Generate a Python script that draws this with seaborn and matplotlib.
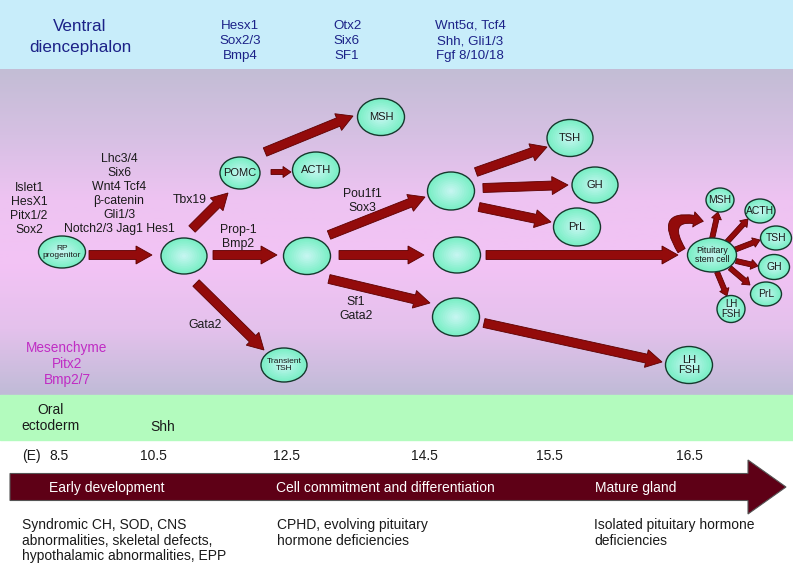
import numpy as np
import matplotlib
matplotlib.use("Agg")
import matplotlib.pyplot as plt
from matplotlib.patches import Ellipse, FancyArrowPatch
import seaborn as sns

sns.set_style("white")
plt.rcParams['font.family'] = ['Liberation Sans', 'DejaVu Sans']

# nodes of the lineage diagram (pixel layout of the reference)
node_labels = ["RP\nprogenitor", "", "POMC", "ACTH", "MSH", "", "", "", "",
               "TSH", "GH", "PrL", "LH\nFSH", "Transient\nTSH", "Pituitary\nstem cell",
               "MSH", "ACTH", "TSH", "GH", "PrL", "LH\nFSH"]
node_x = [62, 184, 240, 316, 381, 307, 451, 457, 456,
          570, 595, 577, 689, 284, 712,
          720, 760, 776, 774, 766, 731]
node_y = [252, 256, 173, 170, 117, 256, 191, 255, 317,
          138, 185, 227, 365, 365, 255,
          200, 211, 238, 267, 294, 309]
node_w = [47, 46, 40, 47, 47, 47, 47, 47, 47,
          46, 46, 47, 47, 46, 49,
          28, 30, 31, 31, 31, 28]
node_h = [32, 36, 32, 36, 37, 37, 38, 36, 38,
          37, 36, 38, 37, 34, 34,
          24, 24, 24, 25, 24, 27]
node_fs = [6, 0, 8, 8, 8, 0, 0, 0, 0,
           8, 8, 8, 8, 6, 6.3,
           7.5, 7.5, 7.5, 7.5, 7.5, 7]

# arrows: tail -> tip, and weight class (0 big, 1 small, 2 medium)
arrow_x0 = [89, 192, 271, 265, 213, 196, 329, 339, 329, 476, 483, 479, 486, 484,
            712, 727, 734, 736, 730, 717]
arrow_y0 = [255, 229, 172, 152, 255, 283, 235, 255, 279, 172, 188, 207, 255, 323,
            239, 242, 250, 261, 268, 272]
arrow_x1 = [152, 228, 291, 353, 277, 264, 425, 424, 430, 547, 568, 551, 678, 662,
            718, 748, 760, 758, 750, 727]
arrow_y1 = [255, 193, 172, 116, 255, 350, 197, 255, 303, 147, 185, 222, 255, 362,
            212, 219, 240, 266, 285, 296]
arrow_kind = [0, 0, 2, 0, 0, 0, 0, 0, 0, 0, 0, 0, 0, 0,
              1, 1, 1, 1, 1, 1]

# text annotations
factor_text = ["Islet1\nHesX1\nPitx1/2\nSox2",
               "Lhc3/4\nSix6\nWnt4 Tcf4\nβ-catenin\nGli1/3\nNotch2/3 Jag1 Hes1",
               "Tbx19", "Prop-1\nBmp2", "Pou1f1\nSox3", "Sf1\nGata2", "Gata2"]
factor_x = [29, 119, 190, 238, 362, 356, 205]
factor_y = [209, 194, 200, 237, 201, 309, 325]

top_text = ["Hesx1\nSox2/3\nBmp4", "Otx2\nSix6\nSF1", "Wnt5α, Tcf4\nShh, Gli1/3\nFgf 8/10/18"]
top_x = [240, 347, 470]

day_labels = ["(E)", "8.5", "10.5", "12.5", "14.5", "15.5", "16.5"]
day_x = [22, 59, 153, 286, 424, 549, 689]

stage_labels = ["Early development", "Cell commitment and differentiation", "Mature gland"]
stage_x = [49, 276, 595]

disease_text = ["Syndromic CH, SOD, CNS\nabnormalities, skeletal defects,\nhypothalamic abnormalities, EPP",
                "CPHD, evolving pituitary\nhormone deficiencies",
                "Isolated pituitary hormone\ndeficiencies"]
disease_x = [22, 277, 594]

W, H = 793, 564
fig = plt.figure(figsize=(W / 100, H / 100), dpi=100)
ax = fig.add_axes([0, 0, 1, 1])
ax.set_xlim(0, W)
ax.set_ylim(H, 0)
ax.axis('off')

# background bands
ax.add_patch(plt.Rectangle((0, 0), W, 69, color='#c8edfa', zorder=0))
grad_cmap = sns.blend_palette(['#c3bdd5', '#d6c0e3', '#eec3f2', '#f3c3f5', '#e4c1ec', '#c0bbd7'], as_cmap=True)
grad = np.linspace(0, 1, 200).reshape(-1, 1)
ax.imshow(grad, extent=(0, W, 395, 69), origin='upper', aspect='auto', cmap=grad_cmap, zorder=0)
ax.add_patch(plt.Rectangle((0, 395), W, 45, color='#b3fbbe', zorder=0))

navy = '#1c2288'
ax.text(80, 37, "Ventral\ndiencephalon", ha='center', va='center', fontsize=12.3,
        color=navy, linespacing=1.45)
for t, x in zip(top_text, top_x):
    ax.text(x, 41, t, ha='center', va='center', fontsize=9.6, color=navy, linespacing=1.38)

# arrows
red, dark = '#930b0b', '#5c0000'
sizes = {0: (9, 18, 16), 1: (5, 10, 7), 2: (5, 11, 8)}
for x0, y0, x1, y1, k in zip(arrow_x0, arrow_y0, arrow_x1, arrow_y1, arrow_kind):
    w, hw, hl = sizes[k]
    ax.arrow(x0, y0, x1 - x0, y1 - y0, width=w, head_width=hw, head_length=hl,
             length_includes_head=True, fc=red, ec=dark, lw=0.6, zorder=2)

# self-renewal hook on the stem cell
ax.add_patch(FancyArrowPatch((683, 253), (706, 222), connectionstyle="arc3,rad=-1.25",
                             arrowstyle="simple,head_width=11,head_length=7,tail_width=6",
                             fc=red, ec=dark, lw=0.6, zorder=2))

# nodes, with a soft lighter centre
shade = sns.blend_palette(['#7eefc8', '#c4f6f0'], 10)
for lab, x, y, w, h, fs in zip(node_labels, node_x, node_y, node_w, node_h, node_fs):
    ax.add_patch(Ellipse((x, y), w, h, fc=shade[0], ec='#15382c', lw=1.0, zorder=3))
    for i, c in enumerate(shade[1:], start=1):
        s = 1 - i / 10
        ax.add_patch(Ellipse((x, y), w * s * 0.95, h * s * 0.95, fc=c, ec='none', zorder=3))
    if lab:
        ax.text(x, y, lab, ha='center', va='center', fontsize=fs, color='#1a1a1a',
                linespacing=1.0, zorder=4)

for t, x, y in zip(factor_text, factor_x, factor_y):
    ax.text(x, y, t, ha='center', va='center', fontsize=8.8, color='#1a1a1a', linespacing=1.22)

ax.text(67, 364, "Mesenchyme\nPitx2\nBmp2/7", ha='center', va='center', fontsize=9.8,
        color='#c02cc4', linespacing=1.15)
ax.text(51, 418, "Oral\nectoderm", ha='center', va='center', fontsize=10, color='#1a1a1a',
        linespacing=1.15)
ax.text(163, 427, "Shh", ha='center', va='center', fontsize=10, color='#1a1a1a')

for t, x in zip(day_labels, day_x):
    ax.text(x, 456, t, ha='left' if t == "(E)" else 'center', va='center', fontsize=10,
            color='#1a1a1a')

# timeline arrow
ax.arrow(10, 487, 776, 0, width=27, head_width=54, head_length=38, length_includes_head=True,
         fc='#5e0016', ec='#555555', lw=0.8, zorder=2)
for t, x in zip(stage_labels, stage_x):
    ax.text(x, 488, t, ha='left', va='center', fontsize=10, color='white', zorder=3)

for t, x in zip(disease_text, disease_x):
    ax.text(x, 518, t, ha='left', va='top', fontsize=10, color='#1a1a1a', linespacing=1.15)

fig.savefig("out.png", dpi=100)
